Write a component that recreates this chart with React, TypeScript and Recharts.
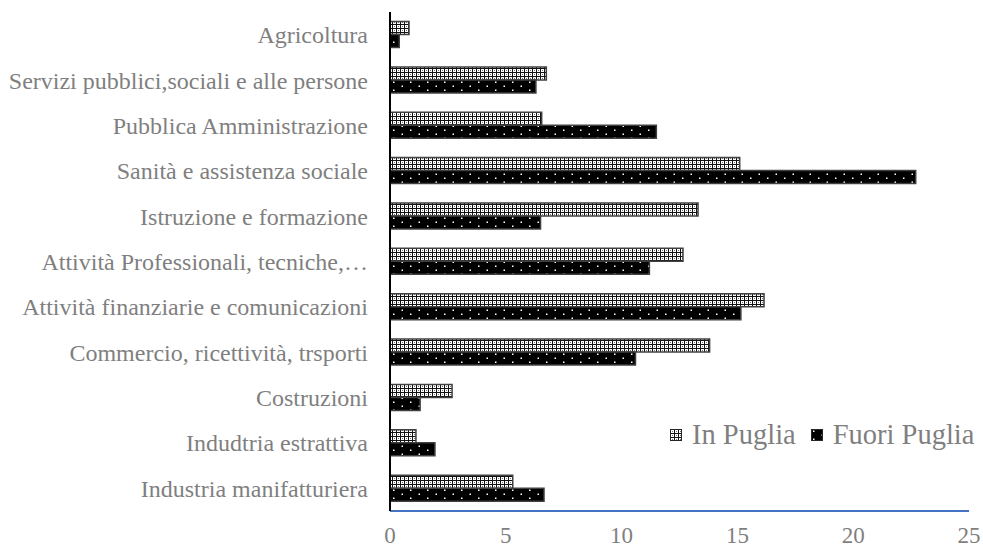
import { Bar, BarChart, XAxis, YAxis } from 'recharts';

const categories = [
  'Agricoltura',
  'Servizi pubblici,sociali e alle persone',
  'Pubblica Amministrazione',
  'Sanità e assistenza sociale',
  'Istruzione e formazione',
  'Attività Professionali, tecniche,…',
  'Attività finanziarie e comunicazioni',
  'Commercio, ricettività, trsporti',
  'Costruzioni',
  'Indudtria estrattiva',
  'Industria manifatturiera',
];
const inPuglia = [0.82, 6.75, 6.55, 15.1, 13.3, 12.65, 16.15, 13.8, 2.68, 1.12, 5.3];
const fuoriPuglia = [0.4, 6.3, 11.5, 22.7, 6.5, 11.2, 15.15, 10.6, 1.3, 1.94, 6.65];
const xTicks = [0, 5, 10, 15, 20, 25];

const data = categories.map((name, i) => ({
  name,
  inPuglia: inPuglia[i],
  fuoriPuglia: fuoriPuglia[i],
}));

const font = '"Liberation Serif", "Times New Roman", serif';
const grey = '#7f7f7f';

function Swatch({ fill }: { fill: string }) {
  return (
    <svg width={12} height={12} style={{ marginRight: 10 }}>
      <rect x={0.5} y={0.5} width={11} height={11} fill={fill} stroke="#262626" />
    </svg>
  );
}

// legend sits inside the plot, over the empty lower-right area
function LegendBox() {
  return (
    <div
      style={{
        position: 'absolute',
        left: 670,
        top: 419,
        display: 'flex',
        alignItems: 'center',
        fontFamily: font,
        fontSize: 28.5,
        color: grey,
        whiteSpace: 'nowrap',
      }}
    >
      <Swatch fill="url(#patIn)" />
      <span style={{ marginRight: 15 }}>In Puglia</span>
      <Swatch fill="url(#patOut)" />
      <span>Fuori Puglia</span>
    </div>
  );
}

export default function App() {
  return (
    <div style={{ position: 'absolute', left: 0, top: 0, width: 983, height: 549, background: '#fff' }}>
      <svg width={0} height={0} style={{ position: 'absolute' }}>
        <defs>
          <pattern id="patIn" width={4} height={4} patternUnits="userSpaceOnUse">
            <rect width={4} height={4} fill="#fff" />
            <rect x={0} y={0} width={4} height={1} fill="#111" />
            <rect x={0} y={0} width={1} height={4} fill="#111" />
            <rect x={2} y={2} width={1} height={1} fill="#777" />
          </pattern>
          <pattern id="patOut" width={17} height={8} patternUnits="userSpaceOnUse">
            <rect width={17} height={8} fill="#000" />
            <rect x={2} y={1.5} width={1.5} height={1.5} fill="#fff" />
            <rect x={10.5} y={5.5} width={1.5} height={1.5} fill="#fff" />
          </pattern>
        </defs>
      </svg>
      <BarChart
        width={983}
        height={549}
        data={data}
        layout="vertical"
        margin={{ top: 12, right: 14, bottom: 0, left: 0 }}
        barCategoryGap="21%"
        barGap={0}
      >
        <XAxis
          type="number"
          domain={[0, 25]}
          ticks={xTicks}
          axisLine={{ stroke: '#4472C4', strokeWidth: 2 }}
          tickLine={false}
          tickMargin={10}
          height={38}
          tick={{ fontSize: 23, fill: grey, fontFamily: font }}
        />
        <YAxis
          type="category"
          dataKey="name"
          width={390}
          interval={0}
          axisLine={{ stroke: '#000', strokeWidth: 2 }}
          tickLine={false}
          tickSize={0}
          tickMargin={22}
          tick={{ fontSize: 24, fill: grey, fontFamily: font }}
        />
        <Bar
          dataKey="inPuglia"
          name="In Puglia"
          fill="url(#patIn)"
          stroke="#404040"
          strokeWidth={1.5}
          isAnimationActive={false}
        />
        <Bar
          dataKey="fuoriPuglia"
          name="Fuori Puglia"
          fill="url(#patOut)"
          stroke="#404040"
          strokeWidth={1.5}
          isAnimationActive={false}
        />
      </BarChart>
      <LegendBox />
    </div>
  );
}
